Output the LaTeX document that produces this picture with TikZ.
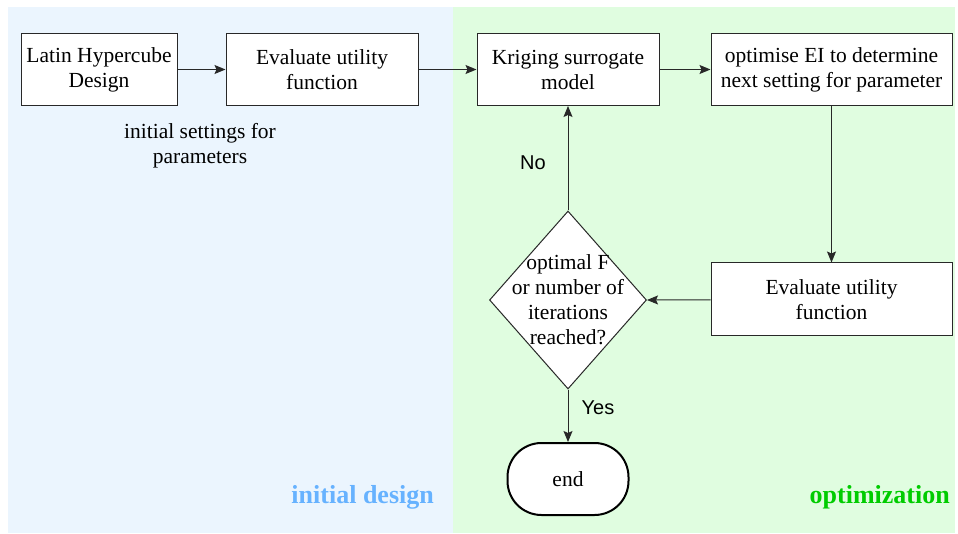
\documentclass[tikz,border=0pt]{standalone}
\usepackage{fontspec}
\setmainfont{Liberation Serif}
\setsansfont{Liberation Sans}
\usetikzlibrary{shapes.geometric,arrows.meta}
\definecolor{bluebg}{RGB}{235,245,254}
\definecolor{greenbg}{RGB}{224,253,224}
\definecolor{bluelbl}{RGB}{102,178,255}
\definecolor{greenlbl}{RGB}{0,204,0}
\definecolor{edge}{RGB}{40,40,40}
\tikzset{
  procbox/.style={draw=edge,line width=1pt,fill=white,rectangle,minimum height=72pt,inner sep=0pt,align=center,font=\fontsize{21.5}{25}\selectfont},
  decision/.style={draw=edge,line width=1pt,fill=white,diamond,minimum width=157pt,minimum height=178pt,inner sep=0pt},
  endbox/.style={draw=black,line width=2pt,fill=white,rectangle,rounded corners=34pt,minimum width=121pt,minimum height=72pt,font=\fontsize{21.5}{25}\selectfont},
  plain/.style={align=center,inner sep=0pt,font=\fontsize{21.5}{25}\selectfont},
  yesno/.style={inner sep=0pt,font=\sffamily\fontsize{20}{24}\selectfont},
  zonelbl/.style={inner sep=0pt,font=\bfseries\fontsize{26}{30}\selectfont},
  conn/.style={draw=edge,line width=1pt,-{Stealth[length=11pt,width=9pt,inset=2pt]}}
}
\begin{document}
\begin{tikzpicture}[x=1pt,y=-1pt]
\useasboundingbox (0,0) rectangle (958,534);
\fill[white] (0,0) rectangle (958,534);
\fill[bluebg] (8,7) rectangle (453,533);
\fill[greenbg] (453,7) rectangle (955,533);

\node[procbox,minimum width=156pt] (lhd) at (99,69.5) {Latin Hypercube\\Design};
\node[procbox,minimum width=192pt] (ev1) at (322,69.5) {Evaluate utility\\function};
\node[procbox,minimum width=182pt] (krg) at (568,69.5) {Kriging surrogate\\model};
\node[procbox,minimum width=241pt] (opt) at (831.5,69.5) {optimise EI to determine\\next setting for parameter};
\node[procbox,minimum width=241pt,minimum height=73pt] (ev2) at (831.5,299.5) {Evaluate utility\\function};
\node[decision] (dec) at (568,300) {};
\node[plain] (dectxt) at (dec.center) {optimal F\\or number of\\iterations\\reached?};
\node[endbox] (end) at (568,479) {end};

\node[plain] (init) at (200,146) {initial settings for\\parameters};
\node[yesno] (no) at (533,163) {No};
\node[yesno] (yes) at (598,408) {Yes};
\node[zonelbl,text=bluelbl,anchor=east] (zi) at (434,497) {initial design};
\node[zonelbl,text=greenlbl,anchor=east] (zo) at (950,497) {optimization};

\draw[conn] (lhd) -- (ev1);
\draw[conn] (ev1) -- (krg);
\draw[conn] (krg) -- (opt);
\draw[conn] (opt.south) -- (ev2.north);
\draw[conn] (ev2) -- (dec.east);
\draw[conn] (dec.north) -- (krg.south);
\draw[conn] (dec.south) -- (end.north);
\end{tikzpicture}
\end{document}
